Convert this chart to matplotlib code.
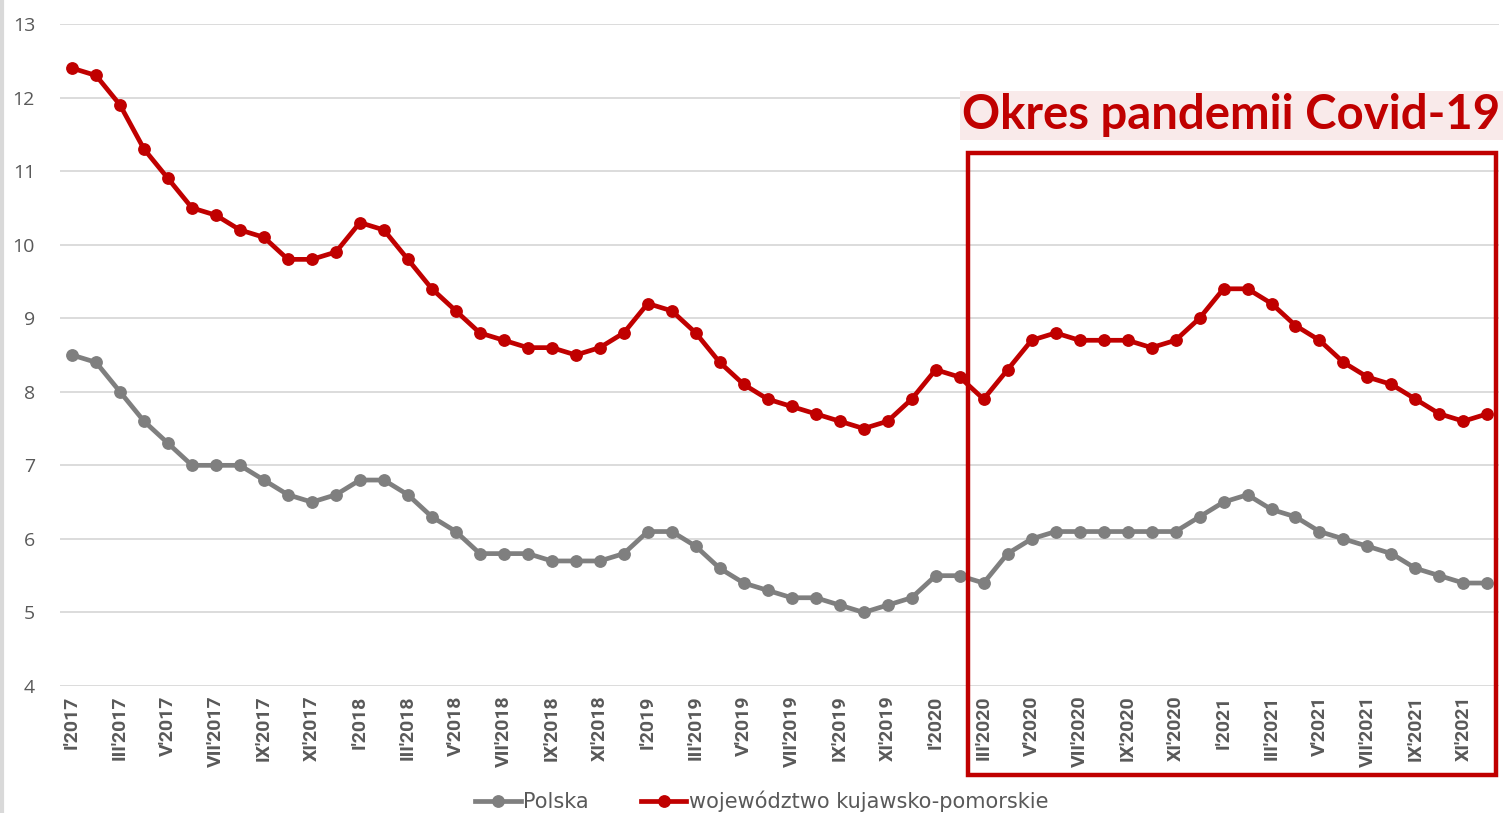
import matplotlib.pyplot as plt
from matplotlib.patches import Rectangle
import matplotlib.transforms as mtransforms

months = ["I", "II", "III", "IV", "V", "VI", "VII", "VIII", "IX", "X", "XI", "XII"]
years = [2017, 2018, 2019, 2020, 2021]
labels = [f"{m}'{y}" for y in years for m in months]

polska = [8.5, 8.4, 8.0, 7.6, 7.3, 7.0, 7.0, 7.0, 6.8, 6.6, 6.5, 6.6,
          6.8, 6.8, 6.6, 6.3, 6.1, 5.8, 5.8, 5.8, 5.7, 5.7, 5.7, 5.8,
          6.1, 6.1, 5.9, 5.6, 5.4, 5.3, 5.2, 5.2, 5.1, 5.0, 5.1, 5.2,
          5.5, 5.5, 5.4, 5.8, 6.0, 6.1, 6.1, 6.1, 6.1, 6.1, 6.1, 6.3,
          6.5, 6.6, 6.4, 6.3, 6.1, 6.0, 5.9, 5.8, 5.6, 5.5, 5.4, 5.4]

kujawsko = [12.4, 12.3, 11.9, 11.3, 10.9, 10.5, 10.4, 10.2, 10.1, 9.8, 9.8, 9.9,
            10.3, 10.2, 9.8, 9.4, 9.1, 8.8, 8.7, 8.6, 8.6, 8.5, 8.6, 8.8,
            9.2, 9.1, 8.8, 8.4, 8.1, 7.9, 7.8, 7.7, 7.6, 7.5, 7.6, 7.9,
            8.3, 8.2, 7.9, 8.3, 8.7, 8.8, 8.7, 8.7, 8.7, 8.6, 8.7, 9.0,
            9.4, 9.4, 9.2, 8.9, 8.7, 8.4, 8.2, 8.1, 7.9, 7.7, 7.6, 7.7]

pandemic_start = 37.35
pandemic_end = 59.35

gray = "#7f7f7f"
red = "#c00000"
text_gray = "#595959"

x = list(range(len(labels)))

fig = plt.figure(figsize=(15.08, 8.13), dpi=100)
ax = fig.add_axes([0.0398, 0.1562, 0.9545, 0.8143])

ax.plot(x, polska, color=gray, linewidth=3.4, marker="o", markersize=8.2, label="Polska", zorder=3)
ax.plot(x, kujawsko, color=red, linewidth=3.4, marker="o", markersize=8.2,
        label="województwo kujawsko-pomorskie", zorder=3)

ax.set_xlim(-0.5, 59.5)
ax.set_ylim(4, 13)
ax.set_yticks(range(4, 14))
ax.grid(axis="y", color="#d9d9d9", linewidth=1.3)
ax.set_axisbelow(True)
for s in ax.spines.values():
    s.set_visible(False)

ax.set_xticks(x[::2])
ax.set_xticklabels(labels[::2], rotation=90, fontsize=14, color=text_gray,
                   family=["Liberation Sans Narrow", "Roboto", "DejaVu Sans"], fontweight="bold")
ax.tick_params(axis="x", length=0, pad=7)
ax.tick_params(axis="y", length=0, pad=18, labelsize=14, labelcolor=text_gray)
for t in ax.get_yticklabels():
    t.set_family(["Open Sans", "DejaVu Sans"])

# pandemic frame
trans = mtransforms.blended_transform_factory(ax.transData, ax.transAxes)
ax.add_patch(Rectangle((pandemic_start, -0.134), pandemic_end - pandemic_start, 0.939,
                       transform=trans, fill=False, edgecolor=red, linewidth=3.2,
                       clip_on=False, zorder=4))
ax.text(pandemic_end + 0.2, 0.862, "Okres pandemii Covid-19", transform=trans,
        ha="right", va="center", fontsize=34, fontweight="bold", color=red,
        family=["Lato", "DejaVu Sans"],
        bbox=dict(boxstyle="square,pad=0.06", facecolor="#f9eaea", edgecolor="none"))

# left frame line
fig.add_artist(plt.Line2D([0.001, 0.001], [0, 1], color="#d9d9d9", linewidth=3))

leg = fig.legend(loc="lower center", bbox_to_anchor=(0.505, -0.022), ncol=2, frameon=False,
                 handlelength=2.2, columnspacing=2.5, handletextpad=0.1,
                 prop={"family": ["Liberation Sans Narrow", "DejaVu Sans"], "size": 15})
for t in leg.get_texts():
    t.set_color(text_gray)

fig.savefig("out.png", dpi=100)
